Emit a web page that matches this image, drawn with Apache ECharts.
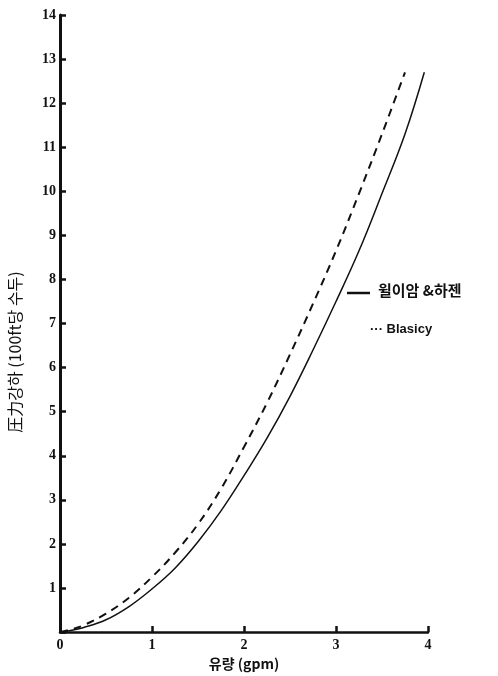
<!DOCTYPE html>
<html>
<head>
<meta charset="utf-8">
<script src="https://cdn.jsdelivr.net/npm/echarts@6/dist/echarts.min.js"></script>
<style>
  html, body { margin: 0; padding: 0; background: #fff; }
  #chart { width: 498px; height: 676px; }
</style>
</head>
<body>
<div id="chart"></div>
<script>
// Flow rate (gpm) vs. head loss per 100 ft
const hazenFlow = [0, 0.1, 0.25, 0.5, 0.75, 1, 1.25, 1.5, 1.75, 2, 2.25, 2.5, 2.75, 3, 3.25, 3.5, 3.75, 3.96];
const hazenLoss = [0, 0.03, 0.1, 0.28, 0.58, 0.98, 1.45, 2.05, 2.75, 3.55, 4.4, 5.35, 6.4, 7.5, 8.65, 9.95, 11.3, 12.7];

const blasiusFlow = [0, 0.1, 0.25, 0.5, 0.75, 1, 1.25, 1.5, 1.75, 2, 2.25, 2.5, 2.75, 3, 3.25, 3.5, 3.75];
const blasiusLoss = [0, 0.05, 0.15, 0.42, 0.78, 1.25, 1.8, 2.45, 3.25, 4.2, 5.2, 6.3, 7.45, 8.65, 9.95, 11.3, 12.7];

const xTicks = [0, 1, 2, 3, 4];
const yTicks = [0, 1, 2, 3, 4, 5, 6, 7, 8, 9, 10, 11, 12, 13, 14];

const seriesNames = ['윌이암 &하젠', 'Blasicy'];
const xTitle = '유량 (gpm)';
const yTitle = '圧力강하 (100ft당 수두)';

const pairs = (xs, ys) => xs.map((x, i) => [x, ys[i]]);

const chart = echarts.init(document.getElementById('chart'), null, { renderer: 'canvas' });

const numFont = { fontFamily: 'Liberation Serif', fontSize: 14, fontWeight: 'bold', color: '#111' };

chart.setOption({
  animation: false,
  backgroundColor: '#fff',
  grid: { left: 60, right: 70, top: 15, bottom: 43 },
  xAxis: {
    type: 'value',
    min: xTicks[0],
    max: xTicks[xTicks.length - 1],
    interval: 1,
    axisLine: { show: true, onZero: false, lineStyle: { color: '#111', width: 2.5 } },
    axisTick: { show: true, inside: true, length: 6, lineStyle: { color: '#111', width: 2.5 } },
    splitLine: { show: false },
    axisLabel: Object.assign({ margin: 6 }, numFont),
    name: xTitle,
    nameLocation: 'middle',
    nameGap: 24,
    nameTextStyle: { fontFamily: 'Noto Sans CJK KR', fontSize: 14, color: '#111', fontWeight: 'bold' }
  },
  yAxis: {
    type: 'value',
    min: yTicks[0],
    max: yTicks[yTicks.length - 1],
    interval: 1,
    axisLine: { show: true, lineStyle: { color: '#111', width: 3 } },
    axisTick: { show: true, inside: true, length: 6, lineStyle: { color: '#111', width: 2.5 } },
    splitLine: { show: false },
    axisLabel: Object.assign({ margin: 4, formatter: v => (v === 0 ? '' : String(v)) }, numFont)
  },
  series: [
    {
      name: seriesNames[0],
      type: 'line',
      data: pairs(hazenFlow, hazenLoss),
      smooth: 0.4,
      showSymbol: false,
      lineStyle: { color: '#111', width: 1.5 }
    },
    {
      name: seriesNames[1],
      type: 'line',
      data: pairs(blasiusFlow, blasiusLoss),
      smooth: 0.4,
      showSymbol: false,
      lineStyle: { color: '#111', width: 2, type: [8, 6] }
    }
  ],
  graphic: [
    // vertical axis title, set a little below the axis midpoint
    {
      type: 'text', x: 15, y: 352, rotation: Math.PI / 2,
      style: { text: yTitle, font: '16px "Noto Sans CJK KR"', fill: '#111', align: 'center', verticalAlign: 'middle' }
    },
    { type: 'line', shape: { x1: 347, y1: 293, x2: 370, y2: 293 }, style: { stroke: '#111', lineWidth: 2.5 } },
    { type: 'text', left: 378, top: 283, style: { text: seriesNames[0], font: 'bold 15px "Noto Sans CJK KR"', fill: '#111' } },
    { type: 'text', left: 370, top: 323, style: { text: '··· ' + seriesNames[1], font: 'bold 13px "Liberation Sans"', fill: '#111' } }
  ]
});
</script>
</body>
</html>
